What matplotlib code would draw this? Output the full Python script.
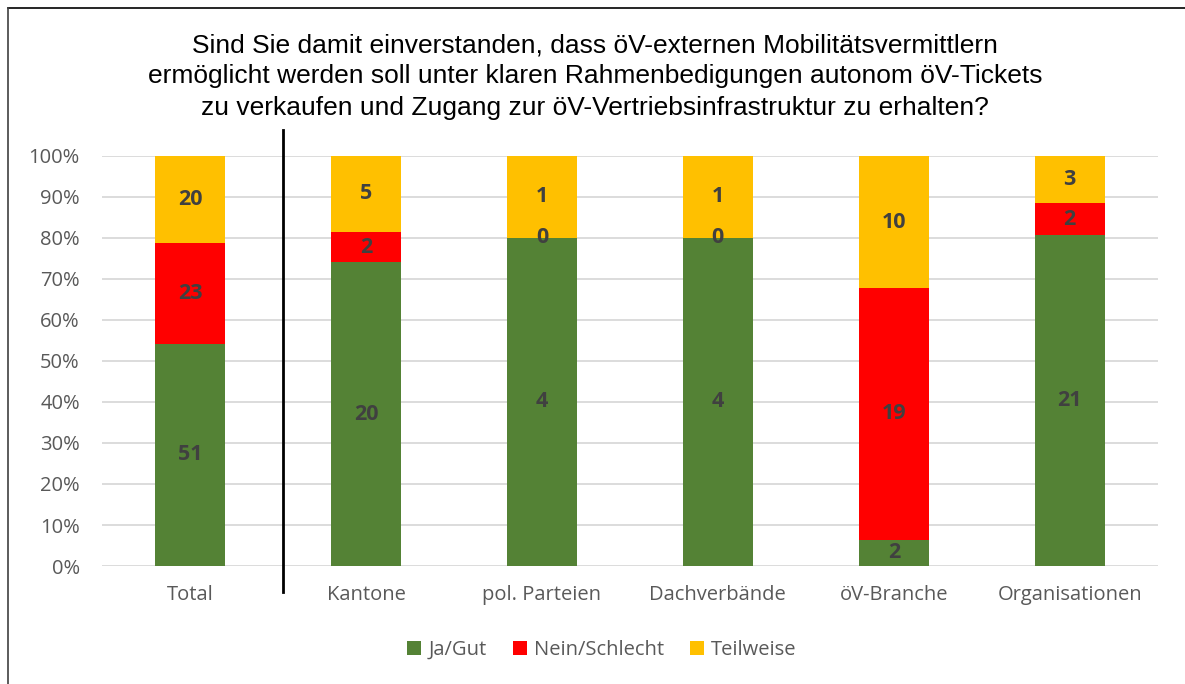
import numpy as np
import matplotlib
matplotlib.use('Agg')
import matplotlib.pyplot as plt
from matplotlib.lines import Line2D
from matplotlib.patches import Patch

# categories and counts per answer
categories = ['Total', 'Kantone', 'pol. Parteien', 'Dachverbände', 'öV-Branche', 'Organisationen']
ja_gut = [51, 20, 4, 4, 2, 21]
nein_schlecht = [23, 2, 0, 0, 19, 2]
teilweise = [20, 5, 1, 1, 10, 3]
series_names = ['Ja/Gut', 'Nein/Schlecht', 'Teilweise']
colors = ['#548235', '#FF0000', '#FFC000']

title_lines = ['Sind Sie damit einverstanden, dass öV-externen Mobilitätsvermittlern',
               'ermöglicht werden soll unter klaren Rahmenbedigungen autonom öV-Tickets',
               'zu verkaufen und Zugang zur öV-Vertriebsinfrastruktur zu erhalten?']

counts = np.array([ja_gut, nein_schlecht, teilweise], dtype=float)
totals = counts.sum(axis=0)
shares = counts / totals * 100

fig = plt.figure(figsize=(11.85, 6.84), dpi=100)
ax = fig.add_axes([0.0861, 0.1725, 0.8909, 0.5995])

x = np.arange(len(categories))
bottom = np.zeros(len(categories))
for i in range(3):
    ax.bar(x, shares[i], width=0.4, bottom=bottom, color=colors[i], zorder=2)
    for j in range(len(categories)):
        ax.text(x[j], bottom[j] + shares[i][j] / 2, str(int(counts[i][j])),
                ha='center', va='center', fontsize=15.5, fontweight='bold',
                color='#404040', family='Open Sans', zorder=3)
    bottom += shares[i]

ax.set_xlim(-0.5, len(categories) - 0.5)
ax.set_ylim(0, 100)
ax.set_yticks(np.arange(0, 101, 10))
ax.set_yticklabels([f'{v}%' for v in range(0, 101, 10)])
ax.set_xticks(x)
ax.set_xticklabels(categories)
ax.yaxis.grid(True, color='#D9D9D9', linewidth=1.3, zorder=0)
ax.set_axisbelow(True)
for s in ax.spines.values():
    s.set_visible(False)
ax.tick_params(length=0, labelsize=14.5, labelcolor='#595959')
ax.tick_params(axis='x', pad=14)
ax.tick_params(axis='y', pad=16)
for lab in ax.get_xticklabels() + ax.get_yticklabels():
    lab.set_family('Open Sans')

# separator between Total and groups
ax.add_line(Line2D([0.53, 0.53], [106.3, -6.3], color='black', linewidth=2,
                   clip_on=False, zorder=4))

# title, one line at a time
for k, line in enumerate(title_lines):
    fig.text(0.502, 1 - (45 + 31.5 * k) / 684, line, ha='center', va='center',
             fontsize=19, family='Liberation Sans', color='black')

handles = [Patch(facecolor=c) for c in colors]
fig.legend(handles, series_names, loc='center', bbox_to_anchor=(0.508, 0.05),
           ncol=3, frameon=False, handlelength=0.7, handleheight=0.7,
           columnspacing=1.3, handletextpad=0.35,
           prop={'family': 'Open Sans', 'size': 14.5}, labelcolor='#595959')

# chart frame (top and left edge visible)
fig.add_artist(Line2D([8 / 1185, 1], [1 - 8 / 684, 1 - 8 / 684], color='black', linewidth=1.2))
fig.add_artist(Line2D([8 / 1185, 8 / 1185], [0, 1 - 8 / 684], color='#404040', linewidth=1.2))

fig.savefig('out.png', dpi=100)
